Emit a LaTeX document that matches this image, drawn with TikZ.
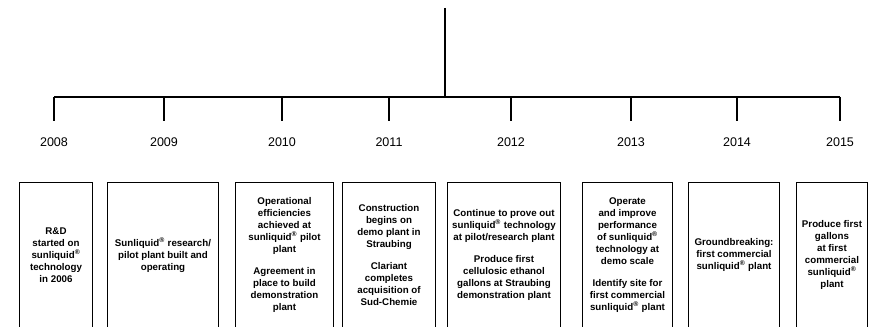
\documentclass[tikz,border=0pt]{standalone}
\usepackage{fontspec}
\setmainfont{Liberation Sans}
\newcommand{\regmark}{\textsuperscript{®}}
\tikzset{
  year/.style={font=\fontsize{9.4}{10}\selectfont,inner sep=0pt},
  frame/.style={inner sep=0pt,minimum height=108pt,align=center,
    font=\bfseries\fontsize{7.3}{9}\selectfont},
}
\begin{document}
\begin{tikzpicture}[x=0.75pt,y=-0.75pt,line width=0.8pt]
  \useasboundingbox (0,0) rectangle (876,327);
  \coordinate (top) at (445,8);
  \coordinate (hub) at (445,97);
  \coordinate (barl) at (54,97);
  \coordinate (barr) at (840,97);
  \draw[line width=1.1pt] (top) -- (hub);
  \draw[line width=1.1pt] (barl) -- (barr);
  \foreach \yr/\xx in {2008/54,2009/164,2010/282,2011/389,2012/511,2013/631,2014/737,2015/840}{
    \coordinate (bar\yr) at (\xx,97);
    \coordinate (tick\yr) at (\xx,121);
    \draw (bar\yr) -- (tick\yr);
    \node[year] (y\yr) at (\xx,142) {\yr};
  }
  % boxes under the years
  \node[frame,minimum width=54pt] (b1) at (56,255)
    {R\&D\\started on\\sunliquid\regmark\\technology\\in 2006};
  \node[frame,minimum width=82.5pt] (b2) at (163,255)
    {Sunliquid\regmark{} research/\\pilot plant built and\\operating};
  \node[frame,minimum width=72.75pt] (b3) at (284.5,255)
    {Operational\\efficiencies\\achieved at\\sunliquid\regmark{} pilot\\plant\\[7pt]
     Agreement in\\place to build\\demonstration\\plant};
  \node[frame,minimum width=69pt] (b4) at (389,255)
    {Construction\\begins on\\demo plant in\\Straubing\\[7pt]
     Clariant\\completes\\acquisition of\\Sud-Chemie};
  \node[frame,minimum width=84pt] (b5) at (504,255)
    {Continue to prove out\\sunliquid\regmark{} technology\\at pilot/research plant\\[7pt]
     Produce first\\cellulosic ethanol\\gallons at Straubing\\demonstration plant};
  \node[frame,minimum width=66.75pt] (b6) at (627.5,255)
    {Operate\\and improve\\performance\\of sunliquid\regmark\\technology at\\demo scale\\[7pt]
     Identify site for\\first commercial\\sunliquid\regmark{} plant};
  \node[frame,minimum width=67.5pt] (b7) at (734,255)
    {Groundbreaking:\\first commercial\\sunliquid\regmark{} plant};
  \node[frame,minimum width=52.5pt] (b8) at (832,255)
    {Produce first\\gallons\\at first\\commercial\\sunliquid\regmark\\plant};
  \foreach \n in {1,...,8}{
    \draw (b\n.south west) -- (b\n.north west) -- (b\n.north east) -- (b\n.south east);
  }
\end{tikzpicture}
\end{document}
